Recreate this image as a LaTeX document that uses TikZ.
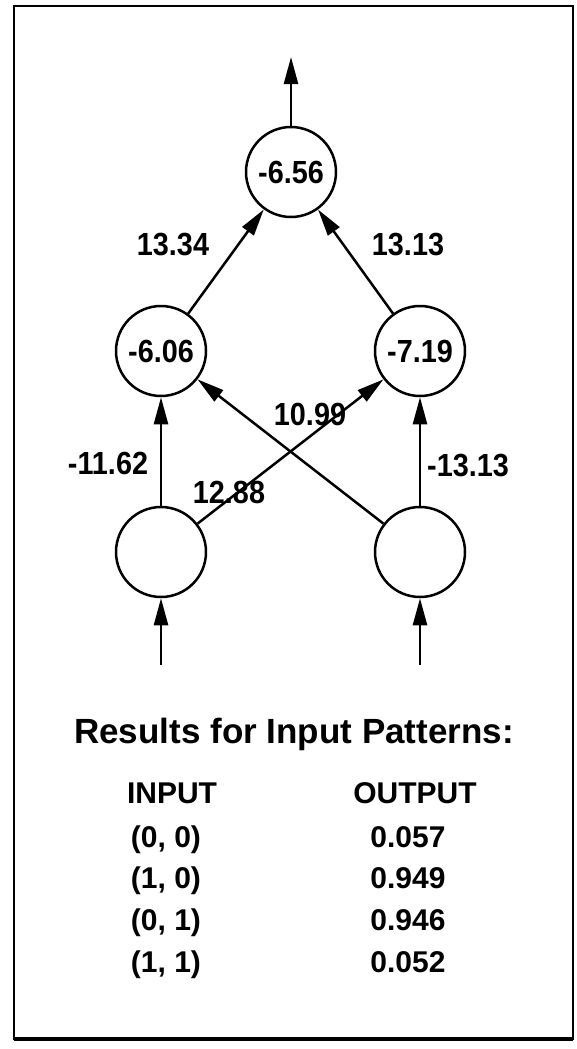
\documentclass[tikz,border=0pt]{standalone}
\usepackage{fontspec}
\setmainfont{Liberation Sans}
\newfontfamily\numfont[FakeStretch=0.9]{Liberation Sans}
\usetikzlibrary{arrows.meta}
\begin{document}
\begin{tikzpicture}[x=1pt,y=-1pt,
  unit/.style={circle, draw, line width=2.5pt, minimum size=90pt, inner sep=0pt,
    font=\numfont\bfseries\fontsize{32}{32}\selectfont},
  wire/.style={line width=2.5pt, -{Triangle[length=27pt,width=14pt]}},
  weight/.style={font=\numfont\bfseries\fontsize{32}{32}\selectfont, inner sep=0pt},
  title/.style={font=\bfseries\fontsize{35}{35}\selectfont, inner sep=0pt, anchor=base},
  cell/.style={font=\bfseries\fontsize{30}{30}\selectfont, inner sep=0pt, anchor=base},
]
\useasboundingbox (0,0) rectangle (577,1049);
\fill[white] (0,0) rectangle (577,1049);

% outer frame
\draw[line width=2.6pt] (14,6) rectangle (573,1039);
\draw[line width=3.8pt] (14,1039) -- (573,1039);

% network units
\node[unit] (out) at (291,172) {-6.56};
\node[unit] (hl) at (161,351) {-6.06};
\node[unit] (hr) at (420,351) {-7.19};
\node[unit] (il) at (161,552) {};
\node[unit] (ir) at (420,552) {};
\coordinate (top) at (291,57);
\coordinate (fl) at (161,665);
\coordinate (fr) at (420,665);

% connections
\draw[wire] (out) -- (top);
\draw[wire] (fl) -- (il);
\draw[wire] (fr) -- (ir);
\draw[wire] (il) -- (hl);
\draw[wire] (ir) -- (hr);
\draw[wire] (il) -- (hr);
\draw[wire] (ir) -- (hl);
\draw[wire] (hl) -- (out);
\draw[wire] (hr) -- (out);

% weights
\node[weight] (w1) at (173,245) {13.34};
\node[weight] (w2) at (408,245) {13.13};
\node[weight] (w3) at (108,463) {-11.62};
\node[weight] (w4) at (468,466) {-13.13};
\node[weight] (w5) at (229,492) {12.88};
\node[weight] (w6) at (310,414) {10.99};

% results table
\node[title] (ttl) at (294,743) {Results for Input Patterns:};
\node[cell] (hin) at (172,803) {INPUT};
\node[cell] (hout) at (415,803) {OUTPUT};
\node[cell] (a1) at (166,847) {(0, 0)};
\node[cell] (b1) at (408,847) {0.057};
\node[cell] (a2) at (166,888) {(1, 0)};
\node[cell] (b2) at (408,888) {0.949};
\node[cell] (a3) at (166,930) {(0, 1)};
\node[cell] (b3) at (408,930) {0.946};
\node[cell] (a4) at (166,972) {(1, 1)};
\node[cell] (b4) at (408,972) {0.052};
\end{tikzpicture}
\end{document}
